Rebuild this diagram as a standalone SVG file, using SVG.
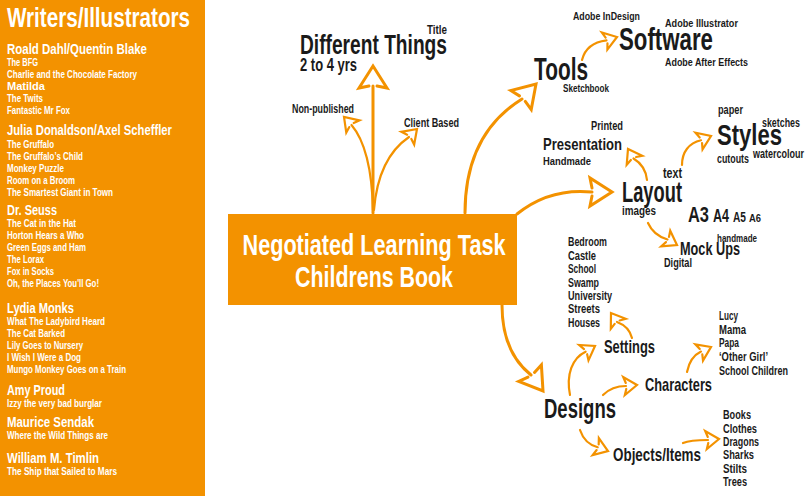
<svg xmlns="http://www.w3.org/2000/svg" xmlns:xlink="http://www.w3.org/1999/xlink" width="805" height="496" viewBox="0 0 805 496">
<style>
text{font-family:"Liberation Sans Narrow","Liberation Sans","DejaVu Sans Condensed",sans-serif;font-weight:bold;}
.w{fill:#ffffff;}
.k{fill:#1a1a1a;}
.it{font-size:10px;}
.au{font-size:15px;}
.li{font-size:12px;}
.c{fill:none;stroke:#F39200;stroke-linecap:round;stroke-linejoin:miter;}
.m{stroke-width:3;}
.s{stroke-width:2.2;}
</style>
<defs>
<path id="hb" d="M-20,-4 L-22,-14 L0,0 L-22,14 L-20,4"/>
<path id="hs" d="M-11,-3 L-13,-9 L0,0 L-13,9 L-11,3"/>
</defs>
<rect width="805" height="496" fill="#ffffff"/>

<g id="writers-panel">
<rect x="0" y="0" width="205" height="496" fill="#F39200"/>
<text class="w" x="7" y="27" font-size="27" textLength="183" lengthAdjust="spacingAndGlyphs">Writers/Illustrators</text>
<text class="w au" x="7" y="54" textLength="140" lengthAdjust="spacingAndGlyphs">Roald Dahl/Quentin Blake</text>
<text class="w it" x="7" y="66" textLength="31" lengthAdjust="spacingAndGlyphs">The BFG</text>
<text class="w it" x="7" y="78" textLength="130" lengthAdjust="spacingAndGlyphs">Charlie and the Chocolate Factory</text>
<text class="w it" x="7" y="90" textLength="38" lengthAdjust="spacingAndGlyphs">Matilda</text>
<text class="w it" x="7" y="102" textLength="36" lengthAdjust="spacingAndGlyphs">The Twits</text>
<text class="w it" x="7" y="114" textLength="63" lengthAdjust="spacingAndGlyphs">Fantastic Mr Fox</text>
<text class="w au" x="7" y="135" textLength="165" lengthAdjust="spacingAndGlyphs">Julia Donaldson/Axel Scheffler</text>
<text class="w it" x="7" y="148" textLength="47" lengthAdjust="spacingAndGlyphs">The Gruffalo</text>
<text class="w it" x="7" y="160" textLength="76" lengthAdjust="spacingAndGlyphs">The Gruffalo’s Child</text>
<text class="w it" x="7" y="172" textLength="57" lengthAdjust="spacingAndGlyphs">Monkey Puzzle</text>
<text class="w it" x="7" y="184" textLength="68" lengthAdjust="spacingAndGlyphs">Room on a Broom</text>
<text class="w it" x="7" y="196" textLength="106" lengthAdjust="spacingAndGlyphs">The Smartest Giant in Town</text>
<text class="w au" x="7" y="215" textLength="50" lengthAdjust="spacingAndGlyphs">Dr. Seuss</text>
<text class="w it" x="7" y="227" textLength="69" lengthAdjust="spacingAndGlyphs">The Cat in the Hat</text>
<text class="w it" x="7" y="239" textLength="77" lengthAdjust="spacingAndGlyphs">Horton Hears a Who</text>
<text class="w it" x="7" y="251" textLength="79" lengthAdjust="spacingAndGlyphs">Green Eggs and Ham</text>
<text class="w it" x="7" y="263" textLength="37" lengthAdjust="spacingAndGlyphs">The Lorax</text>
<text class="w it" x="7" y="275" textLength="47" lengthAdjust="spacingAndGlyphs">Fox in Socks</text>
<text class="w it" x="7" y="287" textLength="92" lengthAdjust="spacingAndGlyphs">Oh, the Places You'll Go!</text>
<text class="w au" x="7" y="313" textLength="67" lengthAdjust="spacingAndGlyphs">Lydia Monks</text>
<text class="w it" x="7" y="325" textLength="98" lengthAdjust="spacingAndGlyphs">What The Ladybird Heard</text>
<text class="w it" x="7" y="337" textLength="58" lengthAdjust="spacingAndGlyphs">The Cat Barked</text>
<text class="w it" x="7" y="349" textLength="76" lengthAdjust="spacingAndGlyphs">Lily Goes to Nursery</text>
<text class="w it" x="7" y="361" textLength="74" lengthAdjust="spacingAndGlyphs">I Wish I Were a Dog</text>
<text class="w it" x="7" y="373" textLength="119" lengthAdjust="spacingAndGlyphs">Mungo Monkey Goes on a Train</text>
<text class="w au" x="7" y="395" textLength="58" lengthAdjust="spacingAndGlyphs">Amy Proud</text>
<text class="w it" x="7" y="407" textLength="95" lengthAdjust="spacingAndGlyphs">Izzy the very bad burglar</text>
<text class="w au" x="7" y="427" textLength="87" lengthAdjust="spacingAndGlyphs">Maurice Sendak</text>
<text class="w it" x="7" y="439" textLength="101" lengthAdjust="spacingAndGlyphs">Where the Wild Things are</text>
<text class="w au" x="7" y="463" textLength="92" lengthAdjust="spacingAndGlyphs">William M. Timlin</text>
<text class="w it" x="7" y="475" textLength="110" lengthAdjust="spacingAndGlyphs">The Ship that Sailed to Mars</text>
</g>

<g id="connectors">
<path class="c m" d="M373,213 L373,86"/>
<use xlink:href="#hb" href="#hb" class="c m" transform="translate(373,66) rotate(-90)"/>
<path class="c m" d="M465,213 C465,160 485,122 522,99"/>
<use xlink:href="#hb" href="#hb" class="c m" transform="translate(536,84) rotate(-47)"/>
<path class="c m" d="M517,214 C538,197 562,189 592,192"/>
<use xlink:href="#hb" href="#hb" class="c m" transform="translate(612,192) rotate(0)"/>
<path class="c m" d="M502,305 C502,338 512,360 531,375"/>
<use xlink:href="#hb" href="#hb" class="c m" transform="translate(543,391) rotate(54)"/>

<path class="c s" d="M373,210 C372,170 366,142 351.5,125"/>
<use xlink:href="#hs" href="#hs" class="c s" transform="translate(344,117) rotate(-133)"/>
<path class="c s" d="M374,210 C377,172 390,150 409,137"/>
<use xlink:href="#hs" href="#hs" class="c s" transform="translate(417,129) rotate(-45)"/>
<path class="c s" d="M582,60 C585,48 594,42 606.5,40.4"/>
<use xlink:href="#hs" href="#hs" class="c s" transform="translate(617,37) rotate(-18)"/>
<path class="c s" d="M647,180 C646,170 641,163 633.5,158.5"/>
<use xlink:href="#hs" href="#hs" class="c s" transform="translate(628,149) rotate(-120)"/>
<path class="c s" d="M682,165 C682,152 689,143 701,140.3"/>
<use xlink:href="#hs" href="#hs" class="c s" transform="translate(711,136) rotate(-23)"/>
<path class="c s" d="M648,223 C652,232 659,237 667.5,239.5"/>
<use xlink:href="#hs" href="#hs" class="c s" transform="translate(677,245) rotate(30)"/>
<path class="c s" d="M570,395 C566,375 572,358 585.6,351.7"/>
<use xlink:href="#hs" href="#hs" class="c s" transform="translate(595,346) rotate(-31)"/>
<path class="c s" d="M603,395 C609,389 617,386 626,386"/>
<use xlink:href="#hs" href="#hs" class="c s" transform="translate(637,385) rotate(-5)"/>
<path class="c s" d="M580,430 C583,439 589,445 597.7,447.2"/>
<use xlink:href="#hs" href="#hs" class="c s" transform="translate(608,451) rotate(20)"/>
<path class="c s" d="M632,338 C630,330 625,325 617,322"/>
<use xlink:href="#hs" href="#hs" class="c s" transform="translate(611,313) rotate(-124)"/>
<path class="c s" d="M687,372 C689,362 694,355 701,351.6"/>
<use xlink:href="#hs" href="#hs" class="c s" transform="translate(711,347) rotate(-25)"/>
<path class="c s" d="M683,443 C690,440 699,440 708,440"/>
<use xlink:href="#hs" href="#hs" class="c s" transform="translate(719,439) rotate(-5)"/>
</g>

<g id="central">
<rect x="228" y="214" width="289" height="91" fill="#F39200"/>
<text class="w" x="374" y="255" font-size="30" text-anchor="middle" textLength="263" lengthAdjust="spacingAndGlyphs">Negotiated Learning Task</text>
<text class="w" x="374" y="287" font-size="30" text-anchor="middle" textLength="158" lengthAdjust="spacingAndGlyphs">Childrens Book</text>
</g>

<g id="different-things">
<text class="k" x="300" y="54" font-size="28" textLength="147" lengthAdjust="spacingAndGlyphs">Different Things</text>
<text class="k" x="427" y="34" font-size="13" textLength="20" lengthAdjust="spacingAndGlyphs">Title</text>
<text class="k" x="300" y="71" font-size="18" textLength="57" lengthAdjust="spacingAndGlyphs">2 to 4 yrs</text>
</g>
<g id="non-published"><text class="k" x="292" y="113" font-size="12" textLength="62" lengthAdjust="spacingAndGlyphs">Non-published</text></g>
<g id="client-based"><text class="k" x="404" y="127" font-size="13" textLength="55" lengthAdjust="spacingAndGlyphs">Client Based</text></g>

<g id="tools">
<text class="k" x="534" y="80" font-size="32" textLength="54" lengthAdjust="spacingAndGlyphs">Tools</text>
<text class="k" x="563" y="92" font-size="10" textLength="46" lengthAdjust="spacingAndGlyphs">Sketchbook</text>
</g>
<g id="software">
<text class="k" x="573" y="20" font-size="11" textLength="67" lengthAdjust="spacingAndGlyphs">Adobe InDesign</text>
<text class="k" x="665" y="27" font-size="11" textLength="73" lengthAdjust="spacingAndGlyphs">Adobe Illustrator</text>
<text class="k" x="619" y="50" font-size="31" textLength="94" lengthAdjust="spacingAndGlyphs">Software</text>
<text class="k" x="665" y="66" font-size="11" textLength="83" lengthAdjust="spacingAndGlyphs">Adobe After Effects</text>
</g>

<g id="presentation">
<text class="k" x="591" y="130" font-size="12.5" textLength="32" lengthAdjust="spacingAndGlyphs">Printed</text>
<text class="k" x="543" y="150" font-size="17" textLength="79" lengthAdjust="spacingAndGlyphs">Presentation</text>
<text class="k" x="543" y="165" font-size="11.5" textLength="48" lengthAdjust="spacingAndGlyphs">Handmade</text>
</g>
<g id="layout">
<text class="k" x="663" y="178" font-size="14" textLength="19" lengthAdjust="spacingAndGlyphs">text</text>
<text class="k" x="622" y="202" font-size="29" textLength="60" lengthAdjust="spacingAndGlyphs">Layout</text>
<text class="k" x="622" y="215" font-size="13" textLength="34" lengthAdjust="spacingAndGlyphs">images</text>
<text class="k" x="688" y="222" font-size="22" textLength="21" lengthAdjust="spacingAndGlyphs">A3</text>
<text class="k" x="713" y="222" font-size="18" textLength="16" lengthAdjust="spacingAndGlyphs">A4</text>
<text class="k" x="733" y="222" font-size="14" textLength="13" lengthAdjust="spacingAndGlyphs">A5</text>
<text class="k" x="749" y="222" font-size="11.5" textLength="12" lengthAdjust="spacingAndGlyphs">A6</text>
</g>
<g id="styles">
<text class="k" x="718" y="114" font-size="13" textLength="25" lengthAdjust="spacingAndGlyphs">paper</text>
<text class="k" x="762" y="127" font-size="13" textLength="38" lengthAdjust="spacingAndGlyphs">sketches</text>
<text class="k" x="717" y="145" font-size="29" textLength="65" lengthAdjust="spacingAndGlyphs">Styles</text>
<text class="k" x="753" y="158" font-size="12.5" textLength="51" lengthAdjust="spacingAndGlyphs">watercolour</text>
<text class="k" x="717" y="163" font-size="13" textLength="32" lengthAdjust="spacingAndGlyphs">cutouts</text>
</g>
<g id="mock-ups">
<text class="k" x="717" y="242" font-size="11.5" textLength="40" lengthAdjust="spacingAndGlyphs">handmade</text>
<text class="k" x="680" y="255" font-size="18" textLength="60" lengthAdjust="spacingAndGlyphs">Mock Ups</text>
<text class="k" x="664" y="267" font-size="12.5" textLength="28" lengthAdjust="spacingAndGlyphs">Digital</text>
</g>

<g id="settings-list">
<text class="k li" x="568" y="246" textLength="39" lengthAdjust="spacingAndGlyphs">Bedroom</text>
<text class="k li" x="568" y="259.5" textLength="28" lengthAdjust="spacingAndGlyphs">Castle</text>
<text class="k li" x="568" y="273" textLength="28" lengthAdjust="spacingAndGlyphs">School</text>
<text class="k li" x="568" y="286.5" textLength="31" lengthAdjust="spacingAndGlyphs">Swamp</text>
<text class="k li" x="568" y="300" textLength="44" lengthAdjust="spacingAndGlyphs">University</text>
<text class="k li" x="568" y="313" textLength="32" lengthAdjust="spacingAndGlyphs">Streets</text>
<text class="k li" x="568" y="326.5" textLength="32" lengthAdjust="spacingAndGlyphs">Houses</text>
</g>
<g id="settings"><text class="k" x="604" y="353" font-size="18" textLength="51" lengthAdjust="spacingAndGlyphs">Settings</text></g>
<g id="characters-list">
<text class="k li" x="719" y="320" textLength="19" lengthAdjust="spacingAndGlyphs">Lucy</text>
<text class="k li" x="719" y="334" textLength="27" lengthAdjust="spacingAndGlyphs">Mama</text>
<text class="k li" x="719" y="347" textLength="20" lengthAdjust="spacingAndGlyphs">Papa</text>
<text class="k li" x="719" y="361" textLength="49" lengthAdjust="spacingAndGlyphs">‘Other Girl’</text>
<text class="k li" x="719" y="374.5" textLength="69" lengthAdjust="spacingAndGlyphs">School Children</text>
</g>
<g id="characters"><text class="k" x="645" y="391" font-size="19" textLength="67" lengthAdjust="spacingAndGlyphs">Characters</text></g>
<g id="designs"><text class="k" x="544" y="418" font-size="28" textLength="72" lengthAdjust="spacingAndGlyphs">Designs</text></g>
<g id="objects"><text class="k" x="613" y="461" font-size="19" textLength="88" lengthAdjust="spacingAndGlyphs">Objects/Items</text></g>
<g id="objects-list">
<text class="k li" x="723" y="419" textLength="28" lengthAdjust="spacingAndGlyphs">Books</text>
<text class="k li" x="723" y="432.5" textLength="34" lengthAdjust="spacingAndGlyphs">Clothes</text>
<text class="k li" x="723" y="446" textLength="36" lengthAdjust="spacingAndGlyphs">Dragons</text>
<text class="k li" x="723" y="459" textLength="31" lengthAdjust="spacingAndGlyphs">Sharks</text>
<text class="k li" x="723" y="472.5" textLength="24" lengthAdjust="spacingAndGlyphs">Stilts</text>
<text class="k li" x="723" y="486" textLength="24" lengthAdjust="spacingAndGlyphs">Trees</text>
</g>
</svg>
